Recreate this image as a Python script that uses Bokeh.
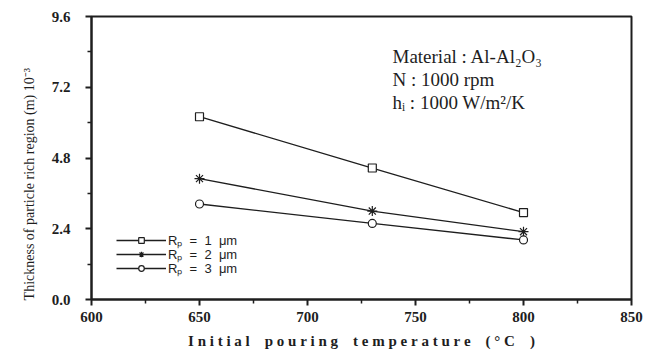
from bokeh.plotting import figure
from bokeh.models import FixedTicker, Legend, LegendItem, Label, Range1d
from bokeh.embed import file_html
from bokeh.resources import INLINE

# Thickness of the particle-rich region (x 10^-3 m) vs initial pouring temperature
temps = [650, 730, 800]
rp_1um = [6.2, 4.46, 2.95]
rp_2um = [4.1, 3.0, 2.3]
rp_3um = [3.24, 2.58, 2.02]

series_labels = ["R\u209a  =  1  \u03bcm", "R\u209a  =  2  \u03bcm", "R\u209a  =  3  \u03bcm"]
x_ticks = [600, 650, 700, 750, 800, 850]
x_minor = [625, 675, 725, 775, 825]
y_ticks = [0.0, 2.4, 4.8, 7.2, 9.6]
y_minor = [1.2, 3.6, 6.0, 8.4]
info_lines = ["Material : Al-Al\u2082O\u2083", "N : 1000 rpm", "h\u1d62 : 1000 W/m\u00b2/K"]
x_title = "Initial pouring temperature (\u00b0C )"
y_title = "Thickness of particle rich region (m) 10\u207b\u00b3"

SERIF = "Liberation Serif"
SANS = "Liberation Sans"
INK = "#1e1e1e"
NB = "\u00a0"


def spaced(s, gap=NB):
    """Open up the letters of a label with non-breaking spaces."""
    return gap.join(s)


p = figure(width=648, height=354, output_backend="svg", toolbar_location=None,
           x_range=Range1d(600, 850), y_range=Range1d(0, 9.6),
           min_border_left=91, min_border_right=17, min_border_top=16, min_border_bottom=55)
p.grid.visible = False
p.outline_line_color = INK
p.outline_line_width = 2
p.background_fill_color = "white"
p.border_fill_color = "white"

p.xaxis.ticker = FixedTicker(ticks=x_ticks, minor_ticks=x_minor)
p.yaxis.ticker = FixedTicker(ticks=y_ticks, minor_ticks=y_minor)
p.yaxis.major_label_overrides = {t: f"{t:.1f}" for t in y_ticks}

for ax in (p.xaxis[0], p.yaxis[0]):
    ax.axis_line_color = INK
    ax.axis_line_width = 2
    ax.major_tick_line_color = INK
    ax.major_tick_line_width = 2
    ax.minor_tick_line_color = INK
    ax.minor_tick_line_width = 1.5
    ax.major_tick_in = 0
    ax.minor_tick_in = 0
    ax.major_tick_out = 6
    ax.minor_tick_out = 4
    ax.major_label_text_font = SERIF
    ax.major_label_text_font_style = "bold"
    ax.major_label_text_font_size = "15px"
    ax.major_label_text_color = INK
    ax.axis_label_text_font = SERIF
    ax.axis_label_text_color = INK

p.xaxis.major_label_standoff = 6
p.yaxis.major_label_standoff = 15

p.xaxis.axis_label = (NB * 4).join(spaced(w) for w in x_title.split(" "))
p.xaxis.axis_label_text_font_style = "bold"
p.xaxis.axis_label_text_font_size = "15px"
p.xaxis.axis_label_standoff = 8

# trailing non-breaking spaces push the rotated title toward the bottom of the axis
p.yaxis.axis_label = y_title + NB * 15
p.yaxis.axis_label_text_font_style = "normal"
p.yaxis.axis_label_text_font_size = "14px"
p.yaxis.axis_label_standoff = 12

styles = [
    dict(marker="square", size=8, fill_color="white"),
    dict(marker="asterisk", size=10, fill_color=INK),
    dict(marker="circle", size=8, fill_color="white"),
]
for k, (ys, st, lab) in enumerate(zip([rp_1um, rp_2um, rp_3um], styles, series_labels)):
    ln = p.line(temps, ys, line_color=INK, line_width=1.3)
    sc = p.scatter(temps, ys, marker=st["marker"], size=st["size"],
                   line_color=INK, line_width=1.2, fill_color=st["fill_color"])
    # one single-row legend per series keeps the rows tightly stacked
    leg = Legend(items=[LegendItem(label=lab, renderers=[ln, sc])],
                 location=(25, 50 - 14 * k),
                 background_fill_alpha=0, border_line_alpha=0,
                 padding=0, margin=0, spacing=0,
                 glyph_width=50, glyph_height=14, label_height=14,
                 label_standoff=2, label_text_font=SANS,
                 label_text_font_size="13px", label_text_color=INK)
    p.add_layout(leg, "center")

for i, line in enumerate(info_lines):
    p.add_layout(Label(x=301, y=243 - 23 * i, x_units="screen", y_units="screen",
                       text=line, text_font=SERIF, text_font_size="19px",
                       text_color=INK, text_baseline="alphabetic"))

open("out.html", "w").write(file_html(p, INLINE))
